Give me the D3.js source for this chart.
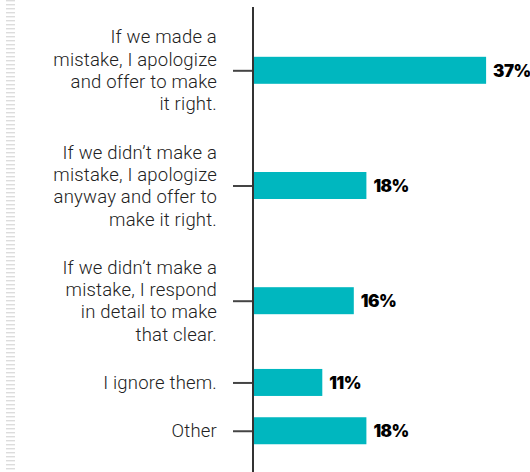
<!DOCTYPE html>
<html>
<head>
<meta charset="utf-8">
<script src="https://cdn.jsdelivr.net/npm/d3@7"></script>
<style>
  html, body { margin: 0; padding: 0; background: #fff; }
  svg { display: block; }
</style>
</head>
<body>
<svg id="chart" width="530" height="472"></svg>
<script>
// answers, each label split in lines as on the original
const categories = ["made", "apologizeAnyway", "respond", "ignore", "other"];
const labels = [
  ["If we made a", "mistake, I apologize", "and offer to make", "it right."],
  ["If we didn\u2019t make a", "mistake, I apologize", "anyway and offer to", "make it right."],
  ["If we didn\u2019t make a", "mistake, I respond", "in detail to make", "that clear."],
  ["I ignore them."],
  ["Other"]
];
const values = [37, 18, 16, 11, 18];

const width = 530, height = 472;
const axisX = 253;
const lineH = 22.3, gap = 26, startY = 12.7;
const barH = 27;
const teal = "#00b7bf";

const svg = d3.select("#chart");

// faint striped strip on the left edge
const defs = svg.append("defs");
defs.append("pattern")
  .attr("id", "stripes")
  .attr("width", 9).attr("height", 4)
  .attr("patternUnits", "userSpaceOnUse")
  .append("rect")
    .attr("width", 9).attr("height", 1.4)
    .attr("fill", "#dcdcdc");
svg.append("rect")
  .attr("x", 6).attr("y", 0)
  .attr("width", 9).attr("height", height)
  .attr("fill", "url(#stripes)");

// vertical layout follows the number of label lines
const slots = labels.map(l => l.length * lineH + gap);
const ends = d3.cumsum(slots);
const centers = slots.map((s, i) => startY + ends[i] - s / 2);
const y = d3.scaleOrdinal(categories, centers);

const x = d3.scaleLinear()
  .domain([0, 40])
  .range([axisX, axisX + 252]);

// bars
svg.append("g")
  .selectAll("rect")
  .data(values)
  .join("rect")
    .attr("x", x(0))
    .attr("y", (d, i) => y(categories[i]) - barH / 2)
    .attr("width", d => x(d) - x(0))
    .attr("height", barH)
    .attr("fill", teal);

// ticks
const yAxis = d3.axisLeft(y).tickSize(20).tickFormat("");
svg.append("g")
  .attr("transform", `translate(${axisX},0)`)
  .call(yAxis)
  .call(g => g.select(".domain").remove())
  .call(g => g.selectAll(".tick line").attr("stroke", "#444").attr("stroke-width", 2));

// axis line
svg.append("line")
  .attr("x1", axisX).attr("x2", axisX)
  .attr("y1", 7).attr("y2", height)
  .attr("stroke", "#333")
  .attr("stroke-width", 2);

// category labels
const lab = svg.append("g")
  .attr("font-family", "Roboto, Lato, sans-serif")
  .attr("font-weight", 300)
  .attr("font-size", 18.5)
  .attr("letter-spacing", 0.2)
  .attr("fill", "#222")
  .attr("text-anchor", "end");

lab.selectAll("text")
  .data(labels)
  .join("text")
    .attr("x", 217)
    .attr("y", (d, i) => y(categories[i]) - (d.length - 1) / 2 * lineH + 6.6)
    .selectAll("tspan")
    .data(d => d)
    .join("tspan")
      .attr("x", 217)
      .attr("dy", (d, j) => j === 0 ? 0 : lineH)
      .text(d => d);

// value labels
svg.append("g")
  .attr("font-family", "Inter, Roboto, sans-serif")
  .attr("font-weight", 900)
  .attr("font-size", 17)
  .attr("fill", "#000")
  .selectAll("text")
  .data(values)
  .join("text")
    .attr("x", d => x(d) + 7)
    .attr("y", (d, i) => y(categories[i]) + 6.5)
    .attr("letter-spacing", -0.5)
    .text(d => d + "%");
</script>
</body>
</html>
